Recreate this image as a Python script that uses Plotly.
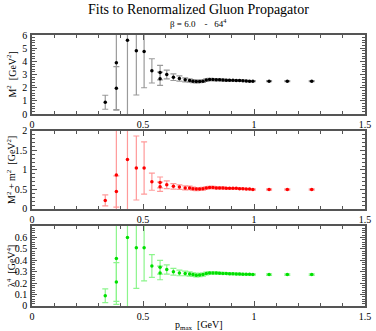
import plotly.graph_objects as go
from plotly.subplots import make_subplots

# p_max values [GeV]
p_max = [0.33, 0.38, 0.38, 0.43, 0.47, 0.505, 0.54, 0.577, 0.577, 0.607, 0.637, 0.664, 0.69,
         0.71, 0.725, 0.74, 0.755, 0.77, 0.785, 0.80, 0.815, 0.83, 0.845, 0.86, 0.875, 0.89,
         0.905, 0.92, 0.935, 0.95, 0.965, 0.98, 0.995, 1.068, 1.15, 1.26]

# M^2 [GeV^2]
m2 = [0.9, 3.9, 1.97, 5.6, 4.8, 4.75, 3.28, 3.15, 2.68, 3.0, 2.8, 2.7, 2.6,
      2.55, 2.5, 2.47, 2.48, 2.5, 2.58, 2.62, 2.62, 2.6, 2.6, 2.58, 2.57, 2.56,
      2.56, 2.55, 2.55, 2.53, 2.52, 2.5, 2.5, 2.5, 2.5, 2.5]
m2_err = [0.53, 3.6, 1.63, 6.5, 3.35, 2.75, 0.92, 0.55, 0.5, 0.33, 0.25, 0.2, 0.15,
          0.13, 0.12, 0.11, 0.1, 0.1, 0.09, 0.09, 0.08, 0.08, 0.07, 0.07, 0.06, 0.06,
          0.06, 0.05, 0.05, 0.05, 0.05, 0.04, 0.04, 0.04, 0.04, 0.04]

# M^2 + m^2 [GeV^2]
mm2 = [0.22, 0.87, 0.45, 1.27, 1.05, 1.05, 0.7, 0.68, 0.57, 0.62, 0.58, 0.56, 0.54,
       0.54, 0.52, 0.51, 0.51, 0.52, 0.54, 0.55, 0.55, 0.54, 0.54, 0.54, 0.53, 0.53,
       0.53, 0.53, 0.52, 0.52, 0.51, 0.51, 0.5, 0.5, 0.5, 0.5]
mm2_err = [0.14, 1.5, 0.4, 1.5, 0.82, 0.67, 0.22, 0.14, 0.12, 0.1, 0.07, 0.06, 0.05,
           0.045, 0.04, 0.04, 0.035, 0.035, 0.03, 0.03, 0.03, 0.025, 0.025, 0.025, 0.02, 0.02,
           0.02, 0.02, 0.02, 0.015, 0.015, 0.015, 0.015, 0.015, 0.015, 0.015]

# lambda^4 [GeV^4]
lam4 = [0.09, 0.415, 0.21, 0.6, 0.51, 0.51, 0.35, 0.34, 0.29, 0.32, 0.30, 0.29, 0.285,
        0.28, 0.275, 0.27, 0.272, 0.275, 0.285, 0.29, 0.29, 0.288, 0.286, 0.285, 0.284, 0.283,
        0.282, 0.281, 0.28, 0.279, 0.278, 0.277, 0.276, 0.275, 0.275, 0.275]
lam4_err = [0.06, 0.4, 0.17, 0.7, 0.355, 0.29, 0.1, 0.06, 0.06, 0.04, 0.03, 0.025, 0.02,
            0.018, 0.016, 0.015, 0.014, 0.013, 0.012, 0.011, 0.01, 0.01, 0.009, 0.009, 0.008, 0.008,
            0.007, 0.007, 0.007, 0.006, 0.006, 0.006, 0.006, 0.006, 0.006, 0.006]

x_ticks = [0, 0.5, 1, 1.5]
x_ticklabels = ["0", "0.5", "1", "1.5"]
y_ticks_m2 = [0, 1, 2, 3, 4, 5, 6]
y_ticks_mm2 = [0, 0.5, 1, 1.5, 2]
y_ticks_lam4 = [0, 0.1, 0.2, 0.3, 0.4, 0.5, 0.6]

FONT = "Liberation Serif"

panels = [
    (m2, m2_err, "#000000", "#9a9a9a", "M<sup>2</sup>  [GeV<sup>2</sup>]", [0, 6], y_ticks_m2, 0.2),
    (mm2, mm2_err, "#ff0000", "#ff9a9a", "M<sup>2</sup> + m<sup>2</sup>  [GeV<sup>2</sup>]", [0, 2], y_ticks_mm2, 0.1),
    (lam4, lam4_err, "#00e000", "#8cf58c", "λ<sup>4</sup>  [GeV<sup>4</sup>]", [0, 0.7], y_ticks_lam4, 0.02),
]

fig = make_subplots(rows=3, cols=1)

domains = [[0.708, 1.0], [0.358, 0.646], [0.0, 0.295]]

for i, (vals, errs, col, ecol, ytitle, yrange, yticks, minor) in enumerate(panels):
    fig.add_trace(
        go.Scatter(
            x=p_max, y=vals,
            mode='markers',
            marker=dict(color=col, size=3.5),
            error_y=dict(type='data', array=errs, color=ecol, thickness=1.2, width=3),
            showlegend=False,
        ),
        row=i+1, col=1
    )
    ax = dict(
        showline=True, linecolor='#555555', linewidth=1.5, mirror='ticks',
        ticks='inside', ticklen=5, tickcolor='#555555', showgrid=False, zeroline=False,
        tickfont=dict(family=FONT, size=10, color='black'), automargin=False,
    )
    fig.update_xaxes(range=[0, 1.5], tickvals=x_ticks, ticktext=x_ticklabels,
                     minor=dict(dtick=0.1, tick0=0, ticks='inside', ticklen=3, tickcolor='#555555'),
                     **ax, row=i+1, col=1)
    fig.update_yaxes(range=yrange, tickvals=yticks, domain=domains[i],
                     minor=dict(dtick=minor, tick0=0, ticks='inside', ticklen=3, tickcolor='#555555'),
                     ticklabelstandoff=1, **ax, row=i+1, col=1)
    d = domains[i]
    fig.add_annotation(text=ytitle, xref='paper', yref='paper', x=0, y=(d[0] + d[1]) / 2,
                       xshift=-21, textangle=-90, showarrow=False, xanchor='center', yanchor='middle',
                       font=dict(family=FONT, size=10, color='black'))

fig.add_annotation(text="p<sub>max</sub>  [GeV]", xref='paper', yref='paper',
                   x=0.5, y=0, yshift=-19, showarrow=False, yanchor='middle',
                   font=dict(family=FONT, size=10, color='black'))
fig.add_annotation(text="Fits to Renormalized Gluon Propagator", xref='paper', yref='paper',
                   x=0.5, y=1.0, yshift=26, showarrow=False, yanchor='middle',
                   font=dict(family=FONT, size=14, color='black'))
fig.add_annotation(text="β = 6.0    -   64<sup>4</sup>", xref='paper', yref='paper',
                   x=0.5, y=1.0, yshift=12, showarrow=False, yanchor='middle',
                   font=dict(family=FONT, size=9, color='black'))

fig.update_layout(
    width=376, height=331,
    margin=dict(l=32, r=11, t=35, b=25),
    paper_bgcolor='white', plot_bgcolor='white',
    font=dict(family=FONT, color='black'),
)

# drop the browser's default 8px page margin so the figure fills the window
fig.write_html("out.html", config={'displayModeBar': False},
               post_script="document.body.style.margin='0';")
